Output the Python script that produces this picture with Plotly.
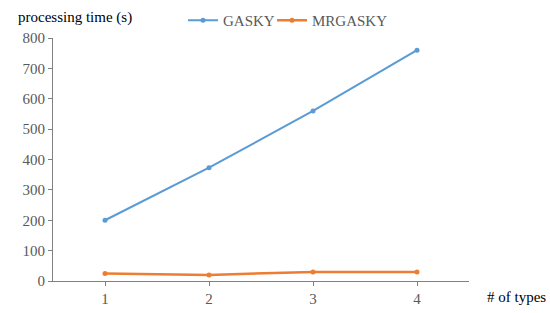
import plotly.graph_objects as go

categories = ["1", "2", "3", "4"]
gasky = [200, 373, 560, 760]
mrgasky = [25, 20, 30, 30]
y_ticks = [0, 100, 200, 300, 400, 500, 600, 700, 800]

W, H = 550, 313
L, R, T, B = 53, 81, 38, 32

fig = go.Figure()
fig.add_trace(go.Scatter(x=categories, y=gasky, name="GASKY", mode="lines+markers", legend="legend",
                         line=dict(color="#5B9BD5", width=2), marker=dict(size=5, color="#5B9BD5")))
fig.add_trace(go.Scatter(x=categories, y=mrgasky, name="MRGASKY", mode="lines+markers", legend="legend2",
                         line=dict(color="#ED7D31", width=2.5), marker=dict(size=5, color="#ED7D31")))

font = "Liberation Serif, Times New Roman, serif"
legend_common = dict(orientation="h", xref="container", yref="container", y=1 - 4 / H,
                     xanchor="left", yanchor="top", font=dict(family=font, size=15, color="#595959"),
                     itemwidth=30, bgcolor="rgba(0,0,0,0)")
fig.update_layout(
    width=W, height=H,
    margin=dict(l=L, r=R, t=T, b=B, autoexpand=False),
    paper_bgcolor="white", plot_bgcolor="white",
    font=dict(family=font, color="#595959", size=14),
    showlegend=True,
    legend=dict(x=183 / W, **legend_common),
    legend2=dict(x=272 / W, **legend_common),
    xaxis=dict(type="category", range=[-0.5, 3.5], showline=True, linecolor="#808080", linewidth=1,
               ticks="outside", ticklen=4, tickcolor="#808080", showgrid=False, zeroline=False,
               tickfont=dict(family=font, size=15, color="#595959")),
    yaxis=dict(range=[0, 800], tickvals=y_ticks, showline=True, linecolor="#808080", linewidth=1,
               ticks="outside", ticklen=4, tickcolor="#808080", showgrid=False, zeroline=False,
               tickfont=dict(family=font, size=15, color="#595959")),
    annotations=[
        dict(text="processing time (s)", xref="paper", yref="paper", x=-(L - 16) / (W - L - R),
             y=1 + (38 - 17) / (H - T - B), xanchor="left", yanchor="middle", showarrow=False,
             font=dict(family=font, size=15, color="#000000")),
        dict(text="# of types", xref="paper", yref="paper", x=1 + (485 - 469) / (W - L - R),
             y=-(297 - 281) / (H - T - B), xanchor="left", yanchor="middle", showarrow=False,
             font=dict(family=font, size=15, color="#000000")),
    ],
)
fig.write_html("out.html", config={"displayModeBar": False},
               post_script="document.body.style.margin='0';")
